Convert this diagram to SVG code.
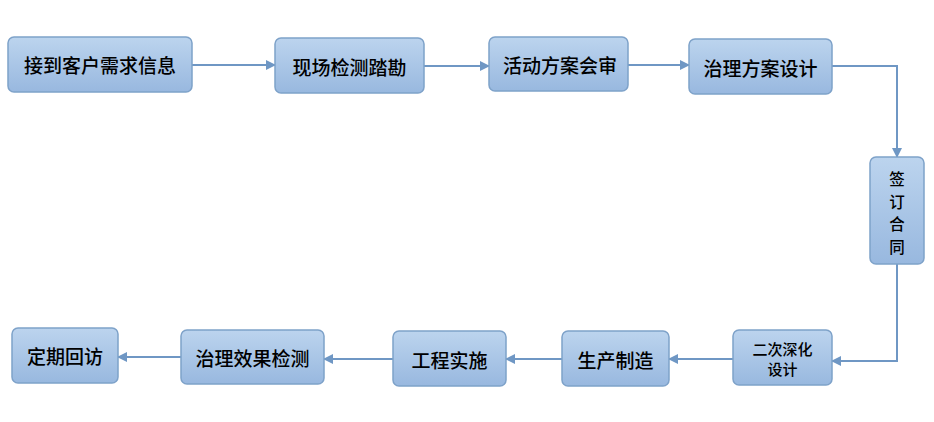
<svg xmlns="http://www.w3.org/2000/svg" width="934" height="422" viewBox="0 0 934 422">
<defs>
<linearGradient id="g" x1="0" y1="0" x2="0" y2="1">
<stop offset="0" stop-color="#bcd4ee"/>
<stop offset="1" stop-color="#98b8df"/>
</linearGradient>
<marker id="a" viewBox="0 0 10 10" refX="9" refY="5" markerWidth="10" markerHeight="10" markerUnits="userSpaceOnUse" orient="auto">
<path d="M0,0 L10,5 L0,10 Z" fill="#6f97c4"/>
</marker>
<style>
.n{fill:url(#g);stroke:#7ea2c9;stroke-width:1.5}
.t{font-family:"Noto Sans CJK SC","Noto Sans",sans-serif;font-size:19px;font-weight:500;fill:#000;text-anchor:middle;dominant-baseline:central}
.s{font-size:15px}
.v{font-size:15.5px}
.c{fill:none;stroke:#6f97c4;stroke-width:2;marker-end:url(#a)}
</style>
</defs>
<rect width="934" height="422" fill="#fff"/>
<g id="connectors">
<path class="c" d="M192,65 H275"/>
<path class="c" d="M424,66 H489"/>
<path class="c" d="M628,65 H689"/>
<path class="c" d="M832,66 H897 V157"/>
<path class="c" d="M897,264 V361 H832"/>
<path class="c" d="M733,359 H669"/>
<path class="c" d="M562,359 H506"/>
<path class="c" d="M393,359 H324"/>
<path class="c" d="M181,357 H118"/>
</g>
<g id="n1"><rect class="n" x="8" y="37" width="184" height="55" rx="6"/><text class="t" x="100" y="64.5">接到客户需求信息</text></g>
<g id="n2"><rect class="n" x="275" y="38" width="149" height="55" rx="6"/><text class="t" x="349.5" y="66">现场检测踏勘</text></g>
<g id="n3"><rect class="n" x="489" y="37" width="139" height="54" rx="6"/><text class="t" x="560" y="64">活动方案会审</text></g>
<g id="n4"><rect class="n" x="689" y="39" width="143" height="55" rx="6"/><text class="t" x="760.5" y="67">治理方案设计</text></g>
<g id="n5"><rect class="n" x="870" y="157" width="54" height="107" rx="6"/><text class="t v"><tspan x="897" y="178">签</tspan><tspan x="897" y="200.5">订</tspan><tspan x="897" y="223">合</tspan><tspan x="897" y="245.5">同</tspan></text></g>
<g id="n6"><rect class="n" x="733" y="330" width="99" height="55" rx="6"/><text class="t s"><tspan x="782.5" y="348">二次深化</tspan><tspan x="782.5" y="368">设计</tspan></text></g>
<g id="n7"><rect class="n" x="562" y="331" width="107" height="55" rx="6"/><text class="t" x="615.5" y="359">生产制造</text></g>
<g id="n8"><rect class="n" x="393" y="331" width="113" height="55" rx="6"/><text class="t" x="449.5" y="359">工程实施</text></g>
<g id="n9"><rect class="n" x="181" y="330" width="143" height="54" rx="6"/><text class="t" x="252.5" y="357">治理效果检测</text></g>
<g id="n10"><rect class="n" x="12" y="328" width="106" height="55" rx="6"/><text class="t" x="65" y="355.5">定期回访</text></g>
</svg>
